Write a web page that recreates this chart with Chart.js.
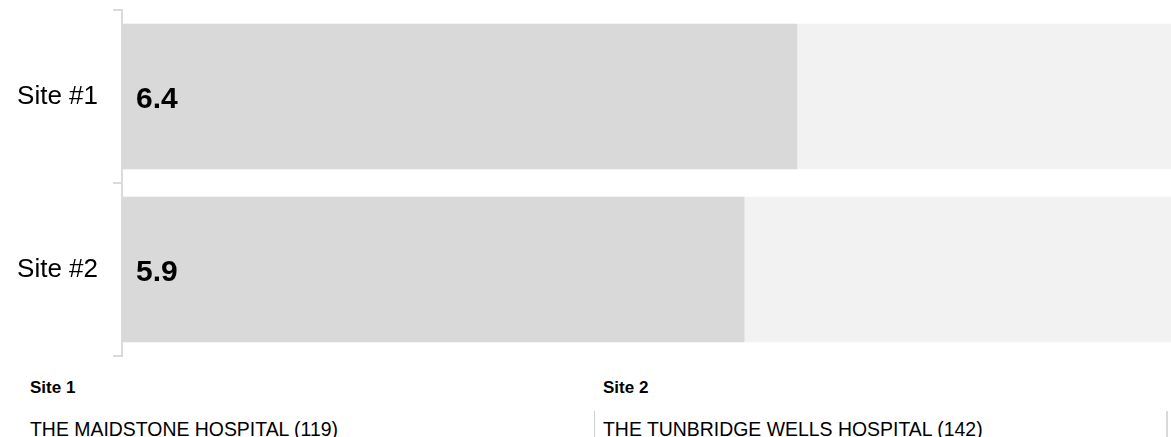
<!DOCTYPE html>
<html>
<head>
<meta charset="utf-8">
<title>Site comparison</title>
<script src="https://cdn.jsdelivr.net/npm/chart.js@4.4.1/dist/chart.umd.min.js"></script>
<style>
  html, body { margin: 0; padding: 0; overflow: hidden; background: #fff; }
  body { width: 1171px; height: 437px; position: relative; font-family: Arial, "Liberation Sans", sans-serif; color: #000; }
  .chart-wrap { position: absolute; left: 0; top: 0; width: 1177px; height: 360px; }
  .site-head { position: absolute; top: 379px; font-size: 17px; line-height: 17px; font-weight: bold; }
  .site-name { position: absolute; top: 418px; font-size: 21px; line-height: 21px; white-space: nowrap; transform: scaleX(0.925); transform-origin: left top; }
  .sep { position: absolute; top: 411px; height: 26px; background: #cfcfcf; }
</style>
</head>
<body>
<div class="chart-wrap"><canvas id="site-chart"></canvas></div>

<div class="site-head" style="left:30px">Site 1</div>
<div class="site-name" style="left:30px">THE MAIDSTONE HOSPITAL (119)</div>

<div class="sep" style="left:594px; width:1px"></div>
<div class="site-head" style="left:603px">Site 2</div>
<div class="site-name" style="left:603px">THE TUNBRIDGE WELLS HOSPITAL (142)</div>
<div class="sep" style="left:1166px; width:2px; background:#dadada"></div>

<script>
  var siteLabels = ["Site #1", "Site #2"];
  var siteScores = [6.4, 5.9];
  var scoreMax = 10;
  var scoreTrack = [scoreMax, scoreMax];

  // writes the score inside the start of each bar
  var valueLabels = {
    id: "valueLabels",
    afterDatasetsDraw: function (chart) {
      var ctx = chart.ctx;
      var meta = chart.getDatasetMeta(0);
      ctx.save();
      ctx.font = "bold 30px Arial, 'Liberation Sans', sans-serif";
      ctx.fillStyle = "#000";
      ctx.textAlign = "left";
      ctx.textBaseline = "middle";
      meta.data.forEach(function (bar, i) {
        ctx.fillText(siteScores[i].toFixed(1), bar.base + 14, bar.y + 3);
      });
      ctx.restore();
    }
  };

  var ctx = document.getElementById("site-chart").getContext("2d");

  var siteChart = new Chart(ctx, {
    type: "bar",
    data: {
      labels: siteLabels,
      datasets: [
        {
          label: "Score",
          data: siteScores,
          backgroundColor: "#d9d9d9",
          borderWidth: 0,
          grouped: false,
          order: 0,
          categoryPercentage: 1,
          barPercentage: 0.84
        },
        {
          label: "Max",
          data: scoreTrack,
          backgroundColor: "#f2f2f2",
          borderWidth: 0,
          grouped: false,
          order: 1,
          categoryPercentage: 1,
          barPercentage: 0.84
        }
      ]
    },
    options: {
      indexAxis: "y",
      responsive: true,
      maintainAspectRatio: false,
      animation: false,
      layout: { padding: { top: 10, bottom: 4, left: 0, right: 0 } },
      plugins: {
        legend: { display: false },
        tooltip: { enabled: false }
      },
      scales: {
        x: {
          display: false,
          min: 0,
          max: scoreMax
        },
        y: {
          offset: true,
          grid: {
            offset: true,
            drawOnChartArea: false,
            drawTicks: true,
            tickLength: 9,
            lineWidth: 2,
            color: "#dadada"
          },
          border: { display: true, color: "#dadada", width: 2 },
          ticks: {
            padding: 15,
            color: "#000",
            font: { family: "Arial, 'Liberation Sans', sans-serif", size: 26 }
          },
          afterFit: function (scale) {
            scale.width = 122;
            scale.paddingTop = 0;
            scale.paddingBottom = 0;
          }
        }
      }
    },
    plugins: [valueLabels]
  });
</script>
</body>
</html>
